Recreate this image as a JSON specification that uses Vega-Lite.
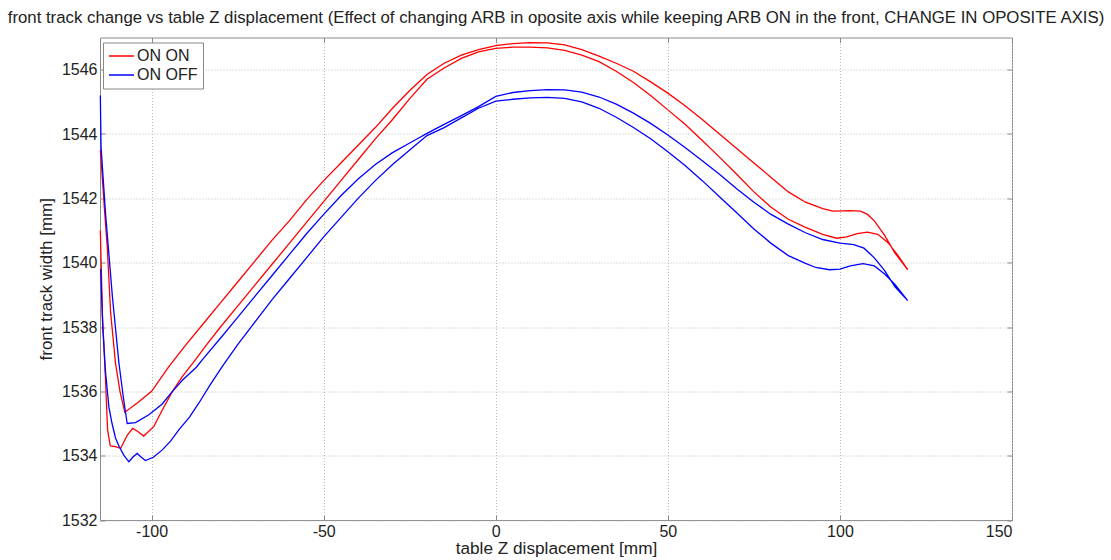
{
  "$schema": "https://vega.github.io/schema/vega-lite/v6.json",
  "autosize": {"type": "none"},
  "padding": {"left": 100, "top": 37.5, "right": 99, "bottom": 40},
  "width": 912,
  "height": 482.5,
  "title": {"text": "front track change vs table Z displacement (Effect of changing ARB in oposite axis while keeping ARB ON in the front, CHANGE IN OPOSITE AXIS)", "fontSize": 16.8, "font": "Liberation Sans", "fontWeight": "normal", "color": "#222", "anchor": "middle", "offset": 10},
  "config": {"view": {"stroke": "#8a8a8a", "strokeWidth": 1}, "font": "Liberation Sans"},
  "datasets": {
    "d": [
      {"s":"ON ON","i":1,"x":-114.9,"y":1543.5},{"s":"ON ON","i":2,"x":-114.3,"y":1542.58},{"s":"ON ON","i":3,"x":-113.6,"y":1541.5},{"s":"ON ON","i":4,"x":-112.9,"y":1540.5},{"s":"ON ON","i":5,"x":-111.9,"y":1538.43},{"s":"ON ON","i":6,"x":-110.5,"y":1536.88},{"s":"ON ON","i":7,"x":-109.2,"y":1536.0},{"s":"ON ON","i":8,"x":-107.8,"y":1535.35},{"s":"ON ON","i":9,"x":-104,"y":1535.65},{"s":"ON ON","i":10,"x":-100,"y":1536.0},{"s":"ON ON","i":11,"x":-95,"y":1536.77},{"s":"ON ON","i":12,"x":-90,"y":1537.45},{"s":"ON ON","i":13,"x":-85,"y":1538.1},{"s":"ON ON","i":14,"x":-80,"y":1538.75},{"s":"ON ON","i":15,"x":-75,"y":1539.4},{"s":"ON ON","i":16,"x":-70,"y":1540.05},{"s":"ON ON","i":17,"x":-65,"y":1540.7},{"s":"ON ON","i":18,"x":-60,"y":1541.3},{"s":"ON ON","i":19,"x":-55,"y":1541.95},{"s":"ON ON","i":20,"x":-50,"y":1542.55},{"s":"ON ON","i":21,"x":-45,"y":1543.1},{"s":"ON ON","i":22,"x":-40,"y":1543.65},{"s":"ON ON","i":23,"x":-35,"y":1544.2},{"s":"ON ON","i":24,"x":-30,"y":1544.8},{"s":"ON ON","i":25,"x":-25,"y":1545.35},{"s":"ON ON","i":26,"x":-20,"y":1545.85},{"s":"ON ON","i":27,"x":-15,"y":1546.2},{"s":"ON ON","i":28,"x":-10,"y":1546.45},{"s":"ON ON","i":29,"x":-5,"y":1546.62},{"s":"ON ON","i":30,"x":0,"y":1546.75},{"s":"ON ON","i":31,"x":5,"y":1546.81},{"s":"ON ON","i":32,"x":10,"y":1546.84},{"s":"ON ON","i":33,"x":15,"y":1546.83},{"s":"ON ON","i":34,"x":20,"y":1546.77},{"s":"ON ON","i":35,"x":25,"y":1546.62},{"s":"ON ON","i":36,"x":30,"y":1546.42},{"s":"ON ON","i":37,"x":35,"y":1546.2},{"s":"ON ON","i":38,"x":40,"y":1545.95},{"s":"ON ON","i":39,"x":45,"y":1545.62},{"s":"ON ON","i":40,"x":50,"y":1545.27},{"s":"ON ON","i":41,"x":55,"y":1544.88},{"s":"ON ON","i":42,"x":60,"y":1544.45},{"s":"ON ON","i":43,"x":65,"y":1544.0},{"s":"ON ON","i":44,"x":70,"y":1543.55},{"s":"ON ON","i":45,"x":75,"y":1543.1},{"s":"ON ON","i":46,"x":80,"y":1542.65},{"s":"ON ON","i":47,"x":85,"y":1542.2},{"s":"ON ON","i":48,"x":90,"y":1541.88},{"s":"ON ON","i":49,"x":95,"y":1541.68},{"s":"ON ON","i":50,"x":98,"y":1541.6},{"s":"ON ON","i":51,"x":103,"y":1541.62},{"s":"ON ON","i":52,"x":106,"y":1541.6},{"s":"ON ON","i":53,"x":108,"y":1541.5},{"s":"ON ON","i":54,"x":110,"y":1541.3},{"s":"ON ON","i":55,"x":113,"y":1540.85},{"s":"ON ON","i":56,"x":116,"y":1540.3},{"s":"ON ON","i":57,"x":119.7,"y":1539.78},
      {"s":"ON ON","i":58,"x":117,"y":1540.2},{"s":"ON ON","i":59,"x":114,"y":1540.62},{"s":"ON ON","i":60,"x":111,"y":1540.88},{"s":"ON ON","i":61,"x":108,"y":1540.95},{"s":"ON ON","i":62,"x":105,"y":1540.9},{"s":"ON ON","i":63,"x":102,"y":1540.8},{"s":"ON ON","i":64,"x":99,"y":1540.76},{"s":"ON ON","i":65,"x":95,"y":1540.88},{"s":"ON ON","i":66,"x":90,"y":1541.1},{"s":"ON ON","i":67,"x":85,"y":1541.35},{"s":"ON ON","i":68,"x":80,"y":1541.72},{"s":"ON ON","i":69,"x":75,"y":1542.2},{"s":"ON ON","i":70,"x":70,"y":1542.75},{"s":"ON ON","i":71,"x":65,"y":1543.28},{"s":"ON ON","i":72,"x":60,"y":1543.8},{"s":"ON ON","i":73,"x":55,"y":1544.3},{"s":"ON ON","i":74,"x":50,"y":1544.75},{"s":"ON ON","i":75,"x":45,"y":1545.2},{"s":"ON ON","i":76,"x":40,"y":1545.6},{"s":"ON ON","i":77,"x":35,"y":1545.95},{"s":"ON ON","i":78,"x":30,"y":1546.25},{"s":"ON ON","i":79,"x":25,"y":1546.45},{"s":"ON ON","i":80,"x":20,"y":1546.6},{"s":"ON ON","i":81,"x":15,"y":1546.68},{"s":"ON ON","i":82,"x":10,"y":1546.7},{"s":"ON ON","i":83,"x":5,"y":1546.7},{"s":"ON ON","i":84,"x":0,"y":1546.66},{"s":"ON ON","i":85,"x":-5,"y":1546.55},{"s":"ON ON","i":86,"x":-10,"y":1546.35},{"s":"ON ON","i":87,"x":-15,"y":1546.05},{"s":"ON ON","i":88,"x":-20,"y":1545.7},{"s":"ON ON","i":89,"x":-25,"y":1545.1},{"s":"ON ON","i":90,"x":-30,"y":1544.45},{"s":"ON ON","i":91,"x":-35,"y":1543.85},{"s":"ON ON","i":92,"x":-40,"y":1543.2},{"s":"ON ON","i":93,"x":-45,"y":1542.55},{"s":"ON ON","i":94,"x":-50,"y":1541.9},{"s":"ON ON","i":95,"x":-55,"y":1541.25},{"s":"ON ON","i":96,"x":-60,"y":1540.6},{"s":"ON ON","i":97,"x":-65,"y":1539.95},{"s":"ON ON","i":98,"x":-70,"y":1539.3},{"s":"ON ON","i":99,"x":-75,"y":1538.65},{"s":"ON ON","i":100,"x":-80,"y":1538.0},{"s":"ON ON","i":101,"x":-84,"y":1537.45},{"s":"ON ON","i":102,"x":-87.3,"y":1536.98},{"s":"ON ON","i":103,"x":-91.1,"y":1536.46},{"s":"ON ON","i":104,"x":-94,"y":1535.99},{"s":"ON ON","i":105,"x":-96.9,"y":1535.42},{"s":"ON ON","i":106,"x":-99.4,"y":1534.9},{"s":"ON ON","i":107,"x":-102.3,"y":1534.61},{"s":"ON ON","i":108,"x":-104,"y":1534.75},{"s":"ON ON","i":109,"x":-105.5,"y":1534.85},{"s":"ON ON","i":110,"x":-107,"y":1534.65},{"s":"ON ON","i":111,"x":-109,"y":1534.23},{"s":"ON ON","i":112,"x":-110.5,"y":1534.28},{"s":"ON ON","i":113,"x":-112,"y":1534.3},{"s":"ON ON","i":114,"x":-112.8,"y":1534.8},{"s":"ON ON","i":115,"x":-113.4,"y":1536.36},{"s":"ON ON","i":116,"x":-114.3,"y":1538.4},{"s":"ON ON","i":117,"x":-114.9,"y":1541.0},
      {"s":"ON OFF","i":1,"x":-114.9,"y":1545.2},{"s":"ON OFF","i":2,"x":-114.7,"y":1543.6},{"s":"ON OFF","i":3,"x":-113.4,"y":1541.54},{"s":"ON OFF","i":4,"x":-111.4,"y":1538.95},{"s":"ON OFF","i":5,"x":-109.5,"y":1536.88},{"s":"ON OFF","i":6,"x":-108.2,"y":1535.8},{"s":"ON OFF","i":7,"x":-107.1,"y":1535.0},{"s":"ON OFF","i":8,"x":-104.7,"y":1535.03},{"s":"ON OFF","i":9,"x":-100.8,"y":1535.27},{"s":"ON OFF","i":10,"x":-97,"y":1535.6},{"s":"ON OFF","i":11,"x":-94,"y":1535.99},{"s":"ON OFF","i":12,"x":-91,"y":1536.35},{"s":"ON OFF","i":13,"x":-87,"y":1536.75},{"s":"ON OFF","i":14,"x":-85.3,"y":1536.98},{"s":"ON OFF","i":15,"x":-80,"y":1537.65},{"s":"ON OFF","i":16,"x":-75,"y":1538.3},{"s":"ON OFF","i":17,"x":-70,"y":1538.95},{"s":"ON OFF","i":18,"x":-65,"y":1539.6},{"s":"ON OFF","i":19,"x":-60,"y":1540.25},{"s":"ON OFF","i":20,"x":-55,"y":1540.9},{"s":"ON OFF","i":21,"x":-50,"y":1541.5},{"s":"ON OFF","i":22,"x":-45,"y":1542.08},{"s":"ON OFF","i":23,"x":-40,"y":1542.6},{"s":"ON OFF","i":24,"x":-35,"y":1543.05},{"s":"ON OFF","i":25,"x":-30,"y":1543.42},{"s":"ON OFF","i":26,"x":-25,"y":1543.72},{"s":"ON OFF","i":27,"x":-22,"y":1543.9},{"s":"ON OFF","i":28,"x":-20,"y":1544.02},{"s":"ON OFF","i":29,"x":-15,"y":1544.3},{"s":"ON OFF","i":30,"x":-10,"y":1544.57},{"s":"ON OFF","i":31,"x":-5,"y":1544.85},{"s":"ON OFF","i":32,"x":0,"y":1545.17},{"s":"ON OFF","i":33,"x":5,"y":1545.29},{"s":"ON OFF","i":34,"x":10,"y":1545.35},{"s":"ON OFF","i":35,"x":15,"y":1545.38},{"s":"ON OFF","i":36,"x":20,"y":1545.37},{"s":"ON OFF","i":37,"x":25,"y":1545.3},{"s":"ON OFF","i":38,"x":30,"y":1545.15},{"s":"ON OFF","i":39,"x":35,"y":1544.93},{"s":"ON OFF","i":40,"x":40,"y":1544.65},{"s":"ON OFF","i":41,"x":45,"y":1544.33},{"s":"ON OFF","i":42,"x":50,"y":1543.97},{"s":"ON OFF","i":43,"x":55,"y":1543.58},{"s":"ON OFF","i":44,"x":60,"y":1543.17},{"s":"ON OFF","i":45,"x":65,"y":1542.75},{"s":"ON OFF","i":46,"x":70,"y":1542.3},{"s":"ON OFF","i":47,"x":75,"y":1541.88},{"s":"ON OFF","i":48,"x":80,"y":1541.5},{"s":"ON OFF","i":49,"x":85,"y":1541.2},{"s":"ON OFF","i":50,"x":90,"y":1540.93},{"s":"ON OFF","i":51,"x":95,"y":1540.72},{"s":"ON OFF","i":52,"x":100,"y":1540.61},{"s":"ON OFF","i":53,"x":104,"y":1540.56},{"s":"ON OFF","i":54,"x":107,"y":1540.45},{"s":"ON OFF","i":55,"x":110,"y":1540.15},{"s":"ON OFF","i":56,"x":113,"y":1539.75},{"s":"ON OFF","i":57,"x":116,"y":1539.25},{"s":"ON OFF","i":58,"x":119.7,"y":1538.82},
      {"s":"ON OFF","i":59,"x":116,"y":1539.32},{"s":"ON OFF","i":60,"x":113,"y":1539.65},{"s":"ON OFF","i":61,"x":110,"y":1539.9},{"s":"ON OFF","i":62,"x":106.7,"y":1539.97},{"s":"ON OFF","i":63,"x":103,"y":1539.9},{"s":"ON OFF","i":64,"x":100,"y":1539.8},{"s":"ON OFF","i":65,"x":97,"y":1539.78},{"s":"ON OFF","i":66,"x":93,"y":1539.85},{"s":"ON OFF","i":67,"x":90,"y":1539.98},{"s":"ON OFF","i":68,"x":85,"y":1540.22},{"s":"ON OFF","i":69,"x":80,"y":1540.6},{"s":"ON OFF","i":70,"x":75,"y":1541.05},{"s":"ON OFF","i":71,"x":70,"y":1541.55},{"s":"ON OFF","i":72,"x":65,"y":1542.05},{"s":"ON OFF","i":73,"x":60,"y":1542.55},{"s":"ON OFF","i":74,"x":55,"y":1543.02},{"s":"ON OFF","i":75,"x":50,"y":1543.45},{"s":"ON OFF","i":76,"x":45,"y":1543.85},{"s":"ON OFF","i":77,"x":40,"y":1544.2},{"s":"ON OFF","i":78,"x":35,"y":1544.52},{"s":"ON OFF","i":79,"x":30,"y":1544.8},{"s":"ON OFF","i":80,"x":25,"y":1545.0},{"s":"ON OFF","i":81,"x":20,"y":1545.11},{"s":"ON OFF","i":82,"x":15,"y":1545.14},{"s":"ON OFF","i":83,"x":10,"y":1545.12},{"s":"ON OFF","i":84,"x":5,"y":1545.08},{"s":"ON OFF","i":85,"x":0,"y":1545.02},{"s":"ON OFF","i":86,"x":-5,"y":1544.8},{"s":"ON OFF","i":87,"x":-10,"y":1544.5},{"s":"ON OFF","i":88,"x":-15,"y":1544.2},{"s":"ON OFF","i":89,"x":-20,"y":1543.95},{"s":"ON OFF","i":90,"x":-25,"y":1543.5},{"s":"ON OFF","i":91,"x":-30,"y":1543.05},{"s":"ON OFF","i":92,"x":-35,"y":1542.55},{"s":"ON OFF","i":93,"x":-40,"y":1542.0},{"s":"ON OFF","i":94,"x":-45,"y":1541.4},{"s":"ON OFF","i":95,"x":-50,"y":1540.8},{"s":"ON OFF","i":96,"x":-55,"y":1540.15},{"s":"ON OFF","i":97,"x":-60,"y":1539.5},{"s":"ON OFF","i":98,"x":-65,"y":1538.85},{"s":"ON OFF","i":99,"x":-70,"y":1538.15},{"s":"ON OFF","i":100,"x":-75,"y":1537.45},{"s":"ON OFF","i":101,"x":-79.5,"y":1536.77},{"s":"ON OFF","i":102,"x":-83,"y":1536.2},{"s":"ON OFF","i":103,"x":-86.3,"y":1535.63},{"s":"ON OFF","i":104,"x":-89,"y":1535.2},{"s":"ON OFF","i":105,"x":-92.1,"y":1534.8},{"s":"ON OFF","i":106,"x":-94.5,"y":1534.45},{"s":"ON OFF","i":107,"x":-96.9,"y":1534.18},{"s":"ON OFF","i":108,"x":-99.5,"y":1533.95},{"s":"ON OFF","i":109,"x":-101.8,"y":1533.85},{"s":"ON OFF","i":110,"x":-103,"y":1533.95},{"s":"ON OFF","i":111,"x":-104.2,"y":1534.07},{"s":"ON OFF","i":112,"x":-105.5,"y":1533.95},{"s":"ON OFF","i":113,"x":-106.6,"y":1533.81},{"s":"ON OFF","i":114,"x":-108,"y":1534.0},{"s":"ON OFF","i":115,"x":-109.5,"y":1534.3},{"s":"ON OFF","i":116,"x":-110.5,"y":1534.55},{"s":"ON OFF","i":117,"x":-111.5,"y":1535.0},{"s":"ON OFF","i":118,"x":-112.4,"y":1535.5},{"s":"ON OFF","i":119,"x":-113.4,"y":1536.6},{"s":"ON OFF","i":120,"x":-114.2,"y":1538.0},{"s":"ON OFF","i":121,"x":-114.8,"y":1539.8}
    ]
  },
  "data": {"name": "d"},
  "layer": [
    {
      "mark": {"type": "line", "opacity": 0},
      "encoding": {
        "x": {"field": "x", "type": "quantitative", "scale": {"domain": [-115, 150], "nice": false, "zero": false},
          "axis": {"orient": "top", "labels": false, "title": null, "grid": false, "domain": false, "values": [-100, -50, 0, 50, 100, 150], "tickSize": -5, "tickColor": "#8a8a8a"}},
        "y": {"field": "y", "type": "quantitative", "scale": {"domain": [1532, 1547], "nice": false, "zero": false},
          "axis": {"orient": "right", "labels": false, "title": null, "grid": false, "domain": false, "values": [1532, 1534, 1536, 1538, 1540, 1542, 1544, 1546], "tickSize": -5, "tickColor": "#8a8a8a"}},
        "detail": {"field": "s"},
        "order": {"field": "i"}
      }
    },
    {
      "mark": {"type": "line", "strokeWidth": 1.3},
      "encoding": {
        "x": {"field": "x", "type": "quantitative", "scale": {"domain": [-115, 150], "nice": false, "zero": false},
          "axis": {"orient": "bottom", "title": "table Z displacement [mm]", "values": [-100, -50, 0, 50, 100, 150], "labelExpr": "toString(datum.value)",
            "grid": true, "gridColor": "#bdbdbd", "gridDash": [1, 2], "domain": false, "tickSize": -5, "tickColor": "#8a8a8a",
            "labelFont": "Liberation Sans", "labelFontSize": 16, "labelColor": "#222", "labelPadding": 8,
            "titleFont": "Liberation Sans", "titleFontSize": 17.2, "titleFontWeight": "normal", "titleColor": "#222", "titlePadding": 0}},
        "y": {"field": "y", "type": "quantitative", "scale": {"domain": [1532, 1547], "nice": false, "zero": false},
          "axis": {"orient": "left", "title": "front track width [mm]", "values": [1532, 1534, 1536, 1538, 1540, 1542, 1544, 1546], "format": "d",
            "grid": true, "gridColor": "#bdbdbd", "gridDash": [1, 2], "domain": false, "tickSize": -5, "tickColor": "#8a8a8a",
            "labelFont": "Liberation Sans", "labelFontSize": 16, "labelColor": "#222", "labelPadding": 8,
            "titleFont": "Liberation Sans", "titleFontSize": 17, "titleFontWeight": "normal", "titleColor": "#222", "titlePadding": 6}},
        "order": {"field": "i"},
        "color": {"field": "s", "type": "nominal", "scale": {"domain": ["ON ON", "ON OFF"], "range": ["#ff0000", "#0000ff"]},
          "legend": {"orient": "none", "legendX": 3, "legendY": 5, "direction": "vertical", "title": null, "symbolType": "stroke", "symbolSize": 625, "symbolStrokeWidth": 1.3,
            "labelFont": "Liberation Sans", "labelFontSize": 16, "labelColor": "#222", "strokeColor": "#888", "fillColor": "white", "padding": 5, "rowPadding": 2, "labelOffset": 2, "clipHeight": 17}}
      }
    }
  ],
  "resolve": {"axis": {"x": "independent", "y": "independent"}}
}
